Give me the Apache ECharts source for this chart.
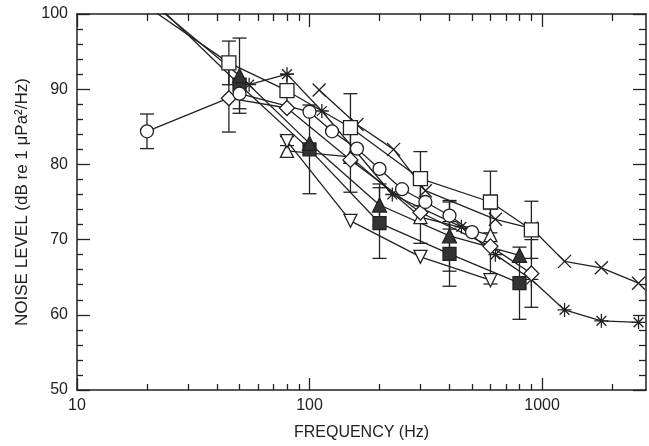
<!DOCTYPE html>
<html><head><meta charset="utf-8">
<script src="https://cdn.jsdelivr.net/npm/echarts@6/dist/echarts.min.js"></script>
<style>html,body{margin:0;padding:0;background:#fff}#c{width:649px;height:446px}</style>
</head><body><div id="c"></div>
<script>
// tick positions
const xMajorTicks = [10, 100, 1000];
const xMinorTicks = [20,30,40,50,60,70,80,90,200,300,400,500,600,700,800,900,2000];

// open square
const sqFreq = [20, 45, 80, 150, 300, 600, 900];
const sqVal  = [101.0, 93.5, 89.8, 84.9, 78.1, 75.0, 71.3];
const sqErr  = [0, 2.9, 2.2, 4.5, 3.6, 4.1, 3.8];
// filled triangle
const ftFreq = [20, 50, 100, 200, 400, 800];
const ftVal  = [102.0, 91.8, 82.8, 74.6, 70.5, 67.9];
const ftErr  = [0, 5.0, 0, 2.8, 4.7, 0];
// filled square
const fsFreq = [20, 50, 100, 200, 400, 800];
const fsVal  = [102.5, 90.6, 82.0, 72.2, 68.1, 64.2];
const fsErr  = [0, 0, 5.9, 4.7, 4.3, 4.8];
// open circle
const ciFreq = [20, 50, 100, 125, 160, 200, 250, 315, 400, 500];
const ciVal  = [84.4, 89.4, 87.0, 84.4, 82.1, 79.4, 76.7, 75.0, 73.2, 71.0];
const ciErr  = [2.3, 2.0, 0, 0, 0, 0, 0, 0, 1.8, 0];
// open diamond
const diFreq = [45, 80, 150, 300, 600, 900];
const diVal  = [88.8, 87.5, 80.6, 73.6, 69.1, 65.5];
const diErr  = [4.5, 0, 4.3, 4.1, 5.0, 4.5];
// open triangle (up)
const tuFreq = [80, 150, 300, 600];
const tuVal  = [81.8, 81.0, 73.0, 70.6];
// open triangle (down)
const tdFreq = [80, 150, 300, 600];
const tdVal  = [83.1, 72.5, 67.7, 64.6];
const tdErr  = [0.6, 0, 0, 0];
// asterisk
const asFreq = [55, 80, 113, 227, 450, 630, 900, 1250, 1800, 2600];
const asVal  = [90.6, 92.0, 87.1, 76.0, 71.7, 68.0, 64.7, 60.65, 59.2, 59.0];
// cross
const crFreq = [110, 160, 230, 315, 630, 900, 1250, 1800, 2600];
const crVal  = [89.9, 85.3, 82.0, 76.5, 72.7, 71.5, 67.1, 66.25, 64.2];

const INK = '#222';
const FONT = "'Liberation Sans', Arial, sans-serif";
const crossPath = 'path://M0,0L10,10M10,0L0,10';
const starPath = 'path://M5,0L5,10M0,5L10,5M1.5,1.5L8.5,8.5M1.5,8.5L8.5,1.5';

function pairs(f, v) { return f.map((x, i) => [x, v[i]]); }
function errs(f, v, e) {
  const out = [];
  f.forEach((x, i) => { if (e[i] > 0) out.push([x, v[i] - e[i], v[i] + e[i]]); });
  return out;
}
function lineSeries(name, f, v, symbol, size, fill, extra) {
  return Object.assign({
    name, type: 'line', data: pairs(f, v), symbol, symbolSize: size,
    showAllSymbol: true, clip: true, z: 3,
    lineStyle: { color: INK, width: 1.3 },
    itemStyle: { color: fill, borderColor: INK, borderWidth: 1.3, opacity: 1 },
    emphasis: { disabled: true }
  }, extra || {});
}
function errSeries(data) {
  return {
    type: 'custom', z: 2, data, clip: true,
    encode: { x: 0, y: [1, 2] },
    renderItem(params, api) {
      const x = api.value(0);
      const p1 = api.coord([x, api.value(1)]);
      const p2 = api.coord([x, api.value(2)]);
      const w = 7, st = { stroke: INK, lineWidth: 1.3 };
      return { type: 'group', children: [
        { type: 'line', shape: { x1: p1[0], y1: p1[1], x2: p2[0], y2: p2[1] }, style: st },
        { type: 'line', shape: { x1: p1[0] - w, y1: p1[1], x2: p1[0] + w, y2: p1[1] }, style: st },
        { type: 'line', shape: { x1: p2[0] - w, y1: p2[1], x2: p2[0] + w, y2: p2[1] }, style: st }
      ]};
    }
  };
}

const xBase = { type: 'log', logBase: 10, min: 10, max: 2800, gridIndex: 0,
  splitLine: { show: false } };
const lineBase = { show: true, lineStyle: { color: INK, width: 1.5 } };

const chart = echarts.init(document.getElementById('c'), null, { renderer: 'canvas' });
chart.setOption({
  animation: false,
  backgroundColor: '#fff',
  grid: { left: 77, right: 3, top: 14, bottom: 54 },
  xAxis: [
    Object.assign({}, xBase, { position: 'bottom', axisLine: lineBase,
      axisTick: { inside: true, length: 12, customValues: xMajorTicks, lineStyle: { color: INK, width: 1.3 } },
      axisLabel: { color: INK, fontSize: 16, fontFamily: FONT, margin: 8,
        customValues: xMajorTicks, formatter: v => String(Math.round(v)) },
      name: 'FREQUENCY (Hz)', nameLocation: 'middle', nameGap: 35,
      nameTextStyle: { color: INK, fontSize: 16, fontFamily: FONT } }),
    Object.assign({}, xBase, { position: 'bottom', axisLine: { show: false },
      axisTick: { inside: true, length: 6, customValues: xMinorTicks, lineStyle: { color: INK, width: 1.3 } },
      axisLabel: { show: false } }),
    Object.assign({}, xBase, { position: 'top', axisLine: lineBase,
      axisTick: { inside: true, length: 13, customValues: xMajorTicks, lineStyle: { color: INK, width: 1.3 } },
      axisLabel: { show: false } }),
    Object.assign({}, xBase, { position: 'top', axisLine: { show: false },
      axisTick: { inside: true, length: 7, customValues: xMinorTicks, lineStyle: { color: INK, width: 1.3 } },
      axisLabel: { show: false } })
  ],
  yAxis: [
    { type: 'value', min: 50, max: 100, interval: 10, position: 'left',
      axisLine: lineBase, splitLine: { show: false },
      axisTick: { inside: true, length: 13, lineStyle: { color: INK, width: 1.3 } },
      minorTick: { show: true, splitNumber: 5, length: 6, lineStyle: { color: INK, width: 1.3 } },
      axisLabel: { color: INK, fontSize: 16, fontFamily: FONT, margin: 9 },
      name: 'NOISE LEVEL (dB re 1 μPa²/Hz)', nameLocation: 'middle', nameGap: 43,
      nameTextStyle: { color: INK, fontSize: 17, fontFamily: FONT } },
    { type: 'value', min: 50, max: 100, interval: 10, position: 'right',
      axisLine: lineBase, splitLine: { show: false },
      axisTick: { inside: true, length: 13, lineStyle: { color: INK, width: 1.3 } },
      minorTick: { show: true, splitNumber: 5, length: 7, lineStyle: { color: INK, width: 1.3 } },
      axisLabel: { show: false } }
  ],
  series: [
    errSeries(errs(sqFreq, sqVal, sqErr)),
    errSeries(errs(ftFreq, ftVal, ftErr)),
    errSeries(errs(fsFreq, fsVal, fsErr)),
    errSeries(errs(ciFreq, ciVal, ciErr)),
    errSeries(errs(diFreq, diVal, diErr)),
    errSeries(errs(tdFreq, tdVal, tdErr)),
    lineSeries('cross', crFreq, crVal, crossPath, 13, 'none'),
    lineSeries('asterisk', asFreq, asVal, starPath, 14, 'none'),
    lineSeries('triUp', tuFreq, tuVal, 'triangle', 13, '#fff'),
    lineSeries('triDown', tdFreq, tdVal, 'triangle', 13, '#fff', { symbolRotate: 180 }),
    lineSeries('filledSquare', fsFreq, fsVal, 'rect', 13, '#333'),
    lineSeries('diamond', diFreq, diVal, 'diamond', 15, '#fff'),
    lineSeries('circle', ciFreq, ciVal, 'circle', 13, '#fff'),
    lineSeries('filledTri', ftFreq, ftVal, 'triangle', 14, '#333'),
    lineSeries('openSquare', sqFreq, sqVal, 'rect', 14, '#fff')
  ]
});
</script>
</body></html>
